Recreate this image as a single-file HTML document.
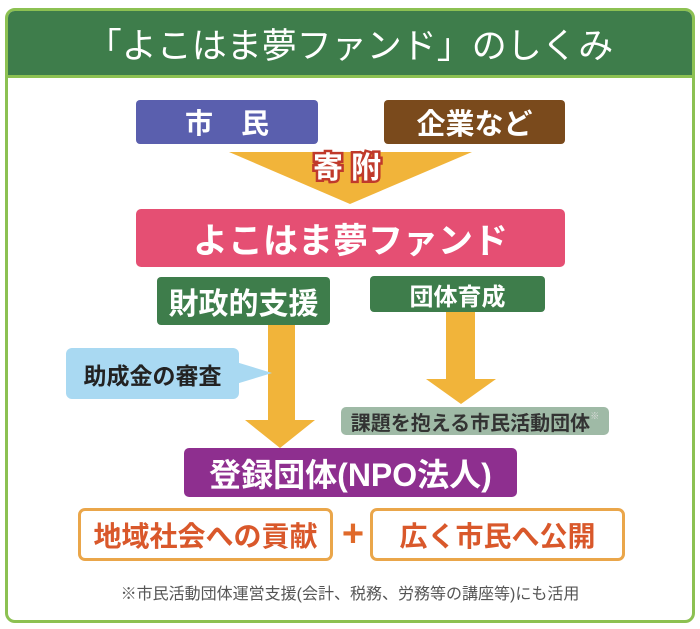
<!DOCTYPE html>
<html><head><meta charset="utf-8"><style>
html,body{margin:0;padding:0;background:#fff;}
body{width:700px;height:629px;position:relative;overflow:hidden;font-family:"Liberation Sans","Noto Sans CJK JP",sans-serif;}
.a{position:absolute;box-sizing:border-box;display:flex;align-items:center;justify-content:center;font-weight:bold;white-space:nowrap;}
</style></head><body>
<div style="position:absolute;left:5px;top:8px;width:690px;height:615px;border:3px solid #8cc152;border-radius:10px;box-sizing:border-box;"></div>
<div class="a" style="left:8px;top:11px;width:684px;height:67px;background:#3e7d4b;border-radius:7px 7px 0 0;border-bottom:3px solid #8cc152;color:#fff;font-size:35px;font-weight:normal;">「よこはま夢ファンド」のしくみ</div>

<div class="a" style="left:136px;top:100px;width:182px;height:44px;background:#5a5fae;border-radius:4px;color:#fff;font-size:28px;letter-spacing:28px;padding-left:28px;">市民</div>
<div class="a" style="left:384px;top:100px;width:181px;height:44px;background:#7a4a1c;border-radius:4px;color:#fff;font-size:29px;">企業など</div>

<svg style="position:absolute;left:0;top:0" width="700" height="629">
<polygon points="229,152 472,152 350,204" fill="#f1b43a"/>
<rect x="268" y="324" width="27" height="97" fill="#f1b43a"/>
<polygon points="245,420 315,420 280,448" fill="#f1b43a"/>
<rect x="446" y="311" width="29" height="69" fill="#f1b43a"/>
<polygon points="426,379 496,379 461,404" fill="#f1b43a"/>
<polygon points="236,362 272,373 236,384" fill="#a9d9f2"/>
<text x="351" y="178" text-anchor="middle" font-size="30" font-weight="bold" fill="#fff" stroke="#c0392b" stroke-width="5" paint-order="stroke" letter-spacing="8" font-family="Liberation Sans,Noto Sans CJK JP,sans-serif">寄附</text>
</svg>

<div class="a" style="left:136px;top:209px;width:429px;height:58px;background:#e54f73;border-radius:5px;color:#fff;font-size:35px;">よこはま夢ファンド</div>
<div class="a" style="left:157px;top:277px;width:173px;height:48px;background:#3e7d4b;border-radius:4px;color:#fff;font-size:30px;">財政的支援</div>
<div class="a" style="left:370px;top:276px;width:175px;height:36px;background:#3e7d4b;border-radius:4px;color:#fff;font-size:24px;">団体育成</div>

<div class="a" style="left:66px;top:348px;width:173px;height:51px;background:#a9d9f2;border-radius:6px;color:#222;font-size:23px;">助成金の審査</div>
<div class="a" style="left:341px;top:407px;width:268px;height:28px;background:#9fbaa6;border-radius:5px;color:#333;font-size:20px;">課題を抱える市民活動団体<span style="font-size:9px;color:#ddd;align-self:flex-start;margin-top:2px;">※</span></div>

<div class="a" style="left:184px;top:448px;width:333px;height:49px;background:#8e2f8f;border-radius:5px;color:#fff;font-size:32px;">登録団体(NPO法人)</div>

<div class="a" style="left:78px;top:508px;width:255px;height:53px;border:3px solid #eaa64a;border-radius:7px;color:#d9582b;font-size:28px;">地域社会への貢献</div>
<div class="a" style="left:339px;top:515px;width:28px;height:38px;color:#e06a2a;font-size:38px;">+</div>
<div class="a" style="left:370px;top:508px;width:255px;height:53px;border:3px solid #eaa64a;border-radius:7px;color:#d9582b;font-size:28px;">広く市民へ公開</div>

<div class="a" style="left:100px;top:581px;width:500px;height:22px;color:#555;font-size:16px;font-weight:normal;">※市民活動団体運営支援(会計、税務、労務等の講座等)にも活用</div>
</body></html>
